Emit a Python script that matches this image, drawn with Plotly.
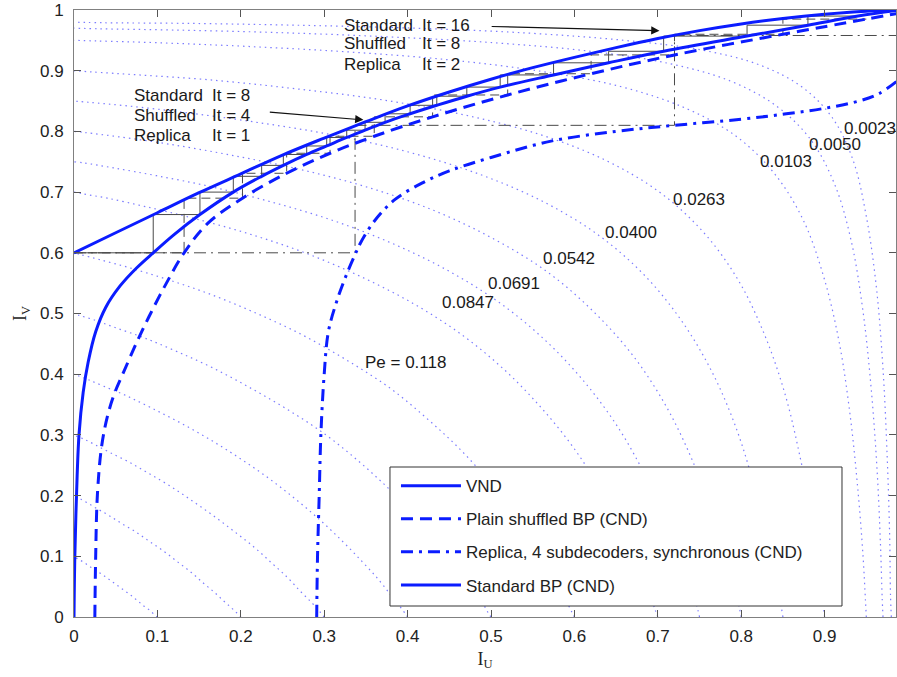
import plotly.graph_objects as go

# ---------------- data ----------------
# VND curve (I_V as a function of I_U)
vnd_u = [0, 0.05, 0.1, 0.15, 0.2, 0.25, 0.3, 0.35, 0.4, 0.45, 0.5, 0.55, 0.6, 0.65, 0.7, 0.75, 0.8, 0.85, 0.9, 0.95, 0.99]
vnd_v = [0.600, 0.633, 0.666, 0.699, 0.730, 0.761, 0.789, 0.816, 0.842, 0.865, 0.886, 0.905, 0.922, 0.938, 0.953, 0.966, 0.977, 0.986, 0.993, 0.998, 1.0]

# Plain shuffled BP (CND)
shuf_u = [0.025, 0.026, 0.028, 0.033, 0.040, 0.049, 0.060, 0.075, 0.090, 0.110, 0.132, 0.160, 0.202, 0.255, 0.307, 0.36, 0.43, 0.52, 0.62, 0.72, 0.85, 0.95, 0.99]
shuf_v = [0.0, 0.1, 0.2, 0.28, 0.33, 0.37, 0.405, 0.452, 0.495, 0.548, 0.6, 0.648, 0.69, 0.731, 0.764, 0.792, 0.824, 0.86, 0.895, 0.926, 0.96, 0.985, 0.995]

# Replica, 4 subdecoders, synchronous (CND)
rep_u = [0.291, 0.292, 0.294, 0.296, 0.3, 0.305, 0.315, 0.327, 0.337, 0.343, 0.36, 0.385, 0.419, 0.45, 0.5, 0.572, 0.65, 0.72, 0.8, 0.854, 0.9, 0.941, 0.965, 0.986]
rep_v = [0.0, 0.1, 0.2, 0.3, 0.4, 0.47, 0.52, 0.565, 0.597, 0.615, 0.652, 0.688, 0.716, 0.735, 0.757, 0.784, 0.80, 0.81, 0.82, 0.829, 0.838, 0.85, 0.862, 0.882]

# Standard BP (CND)
std_u = [0.0, 0.001, 0.003, 0.006, 0.011, 0.017, 0.026, 0.038, 0.055, 0.075, 0.095, 0.120, 0.151, 0.191, 0.225, 0.251, 0.279, 0.303, 0.327, 0.349, 0.373, 0.403, 0.435, 0.471, 0.511, 0.575, 0.641, 0.707, 0.807, 0.88, 0.94, 0.99]
std_v = [0.0, 0.1, 0.2, 0.3, 0.37, 0.42, 0.47, 0.51, 0.545, 0.575, 0.6, 0.63, 0.663, 0.700, 0.726, 0.744, 0.762, 0.776, 0.79, 0.802, 0.815, 0.829, 0.843, 0.858, 0.873, 0.893, 0.913, 0.932, 0.957, 0.975, 0.99, 1.0]

# decoding trajectories (corner points, drawn as horizontal-then-vertical steps)
std_traj_u = [0, 0.095, 0.151, 0.191, 0.225, 0.251, 0.279, 0.303, 0.327, 0.349, 0.373, 0.403, 0.435, 0.471, 0.511, 0.575, 0.641, 0.707, 0.807, 0.88, 0.94]
std_traj_v = [0.6, 0.663, 0.700, 0.726, 0.744, 0.762, 0.776, 0.79, 0.802, 0.815, 0.829, 0.843, 0.858, 0.873, 0.893, 0.913, 0.932, 0.957, 0.975, 0.99, 0.99]
shuf_traj_u = [0, 0.132, 0.202, 0.255, 0.307, 0.36, 0.43, 0.52, 0.62, 0.72, 0.85, 0.95]
shuf_traj_v = [0.6, 0.69, 0.731, 0.764, 0.792, 0.824, 0.86, 0.895, 0.926, 0.96, 0.985, 0.985]
rep_traj_u = [0, 0.337, 0.72, 0.986]
rep_traj_v = [0.6, 0.81, 0.958, 0.958]

# iso-Pe contours (dotted), one list per level
pe_levels = [0.1, 0.2, 0.3, 0.4, 0.5, 0.6, 0.7, 0.75, 0.8, 0.85, 0.9, 0.95, 0.97, 0.98]
pe_u = [
    [.100, .099, .097, .094, .089, .083, .076, .069, .061, .052, .043, .035, .027, .019, .013, .007, .003, .001, 0],
    [.200, .199, .195, .188, .179, .168, .155, .141, .125, .108, .090, .073, .056, .041, .027, .016, .007, .002, 0],
    [.300, .298, .293, .284, .271, .256, .237, .216, .192, .167, .141, .115, .089, .065, .043, .025, .012, .003, 0],
    [.400, .398, .391, .380, .365, .345, .321, .294, .264, .231, .196, .161, .126, .092, .062, .036, .017, .004, 0],
    [.500, .497, .490, .477, .460, .437, .410, .377, .341, .301, .257, .212, .167, .124, .084, .049, .023, .006, 0],
    [.600, .597, .589, .576, .557, .533, .502, .466, .424, .378, .326, .272, .216, .161, .110, .065, .030, .008, 0],
    [.700, .697, .690, .676, .657, .632, .601, .562, .517, .465, .406, .342, .275, .208, .143, .086, .040, .011, 0],
    [.750, .748, .740, .727, .709, .684, .653, .614, .568, .514, .452, .384, .311, .236, .164, .099, .047, .012, 0],
    [.800, .798, .791, .779, .761, .738, .708, .670, .623, .568, .503, .431, .352, .269, .188, .114, .054, .014, 0],
    [.850, .848, .842, .831, .815, .794, .766, .729, .684, .629, .563, .487, .401, .311, .219, .134, .064, .017, 0],
    [.900, .898, .893, .885, .871, .853, .828, .796, .754, .701, .635, .556, .465, .365, .261, .162, .078, .021, 0],
    [.950, .949, .946, .940, .931, .918, .899, .874, .839, .793, .732, .655, .560, .449, .328, .208, .102, .027, 0],
    [.970, .969, .967, .963, .956, .946, .932, .912, .883, .842, .787, .713, .619, .504, .374, .240, .119, .032, 0],
    [.980, .979, .978, .975, .970, .962, .950, .934, .909, .873, .823, .753, .660, .544, .409, .265, .133, .036, 0],
]
pe_v = [
    [0, .001, .003, .007, .013, .019, .027, .035, .043, .052, .061, .069, .076, .083, .089, .094, .097, .099, .100],
    [0, .002, .007, .016, .027, .041, .056, .073, .090, .108, .125, .141, .155, .168, .179, .188, .195, .199, .200],
    [0, .003, .012, .025, .043, .065, .089, .115, .141, .167, .192, .216, .237, .256, .271, .284, .293, .298, .300],
    [0, .004, .017, .036, .062, .092, .126, .161, .196, .231, .264, .294, .321, .345, .365, .380, .391, .398, .400],
    [0, .006, .023, .049, .084, .124, .167, .212, .257, .301, .341, .377, .410, .437, .460, .477, .490, .497, .500],
    [0, .008, .030, .065, .110, .161, .216, .272, .326, .378, .424, .466, .502, .533, .557, .576, .589, .597, .600],
    [0, .011, .040, .086, .143, .208, .275, .342, .406, .465, .517, .562, .601, .632, .657, .676, .690, .697, .700],
    [0, .012, .047, .099, .164, .236, .311, .384, .452, .514, .568, .614, .653, .684, .709, .727, .740, .748, .750],
    [0, .014, .054, .114, .188, .269, .352, .431, .503, .568, .623, .670, .708, .738, .761, .779, .791, .798, .800],
    [0, .017, .064, .134, .219, .311, .401, .487, .563, .629, .684, .729, .766, .794, .815, .831, .842, .848, .850],
    [0, .021, .078, .162, .261, .365, .465, .556, .635, .701, .754, .796, .828, .853, .871, .885, .893, .898, .900],
    [0, .027, .102, .208, .328, .449, .560, .655, .732, .793, .839, .874, .899, .918, .931, .940, .946, .949, .950],
    [0, .032, .119, .240, .374, .504, .619, .713, .787, .842, .883, .912, .932, .946, .956, .963, .967, .969, .970],
    [0, .036, .133, .265, .409, .544, .660, .753, .823, .873, .909, .934, .950, .962, .970, .975, .978, .979, .980],
]

# contour labels and their positions
pe_label_text = ["Pe = 0.118", "0.0847", "0.0691", "0.0542", "0.0400", "0.0263", "0.0103", "0.0050", "0.0023"]
pe_label_u = [0.398, 0.472, 0.527, 0.594, 0.668, 0.749, 0.854, 0.912, 0.955]
pe_label_v = [0.419, 0.518, 0.549, 0.591, 0.633, 0.687, 0.751, 0.779, 0.804]

# iteration annotations
iter_names_1 = ["Standard", "Shuffled", "Replica"]
iter_counts_1 = ["It = 8", "It = 4", "It = 1"]
iter_names_2 = ["Standard", "Shuffled", "Replica"]
iter_counts_2 = ["It = 16", "It = 8", "It = 2"]

legend_names = ["VND", "Plain shuffled BP (CND)", "Replica, 4 subdecoders, synchronous (CND)", "Standard BP (CND)"]

# ---------------- styling ----------------
BLUE = "#0b1cff"
DOT = "rgba(80,80,255,0.75)"
GRAY = "#4a4a4a"
FONT = "Liberation Sans"
FS = 17
TXT = "#1a1a1a"

fig = go.Figure()

for u, v in zip(pe_u, pe_v):
    fig.add_trace(go.Scatter(x=u, y=v, mode="lines", showlegend=False, hoverinfo="skip",
                             line=dict(color=DOT, width=1.2, dash="1.5px,4px", shape="spline")))

fig.add_trace(go.Scatter(x=std_traj_u, y=std_traj_v, mode="lines", showlegend=False,
                         line=dict(color=GRAY, width=1, shape="hv")))
fig.add_trace(go.Scatter(x=shuf_traj_u, y=shuf_traj_v, mode="lines", showlegend=False,
                         line=dict(color=GRAY, width=1, shape="hv", dash="9px,5px")))
fig.add_trace(go.Scatter(x=rep_traj_u, y=rep_traj_v, mode="lines", showlegend=False,
                         line=dict(color=GRAY, width=1, shape="hv", dash="12px,5px,2px,5px")))

fig.add_trace(go.Scatter(x=vnd_u, y=vnd_v, mode="lines", name=legend_names[0], legendgroup="a",
                         line=dict(color=BLUE, width=3, shape="spline")))
fig.add_trace(go.Scatter(x=shuf_u, y=shuf_v, mode="lines", name=legend_names[1], legendgroup="b",
                         line=dict(color=BLUE, width=3, shape="spline", dash="12px,7px")))
fig.add_trace(go.Scatter(x=rep_u, y=rep_v, mode="lines", name=legend_names[2], legendgroup="c",
                         line=dict(color=BLUE, width=3, shape="spline", dash="12px,6px,3px,6px")))
fig.add_trace(go.Scatter(x=std_u, y=std_v, mode="lines", name=legend_names[3], legendgroup="d",
                         line=dict(color=BLUE, width=3, shape="spline")))

annotations = []
for t, x, y in zip(pe_label_text, pe_label_u, pe_label_v):
    annotations.append(dict(x=x, y=y, text=t, showarrow=False, xanchor="center", yanchor="middle",
                            font=dict(family=FONT, size=FS, color=TXT)))

rows1 = [0.859, 0.826, 0.794]
rows2 = [0.975, 0.944, 0.911]
for n, c, y in zip(iter_names_1, iter_counts_1, rows1):
    annotations.append(dict(x=0.070, y=y, text=n, showarrow=False, xanchor="left", yanchor="middle",
                            font=dict(family=FONT, size=FS, color=TXT)))
    annotations.append(dict(x=0.163, y=y, text=c, showarrow=False, xanchor="left", yanchor="middle",
                            font=dict(family=FONT, size=FS, color=TXT)))
for n, c, y in zip(iter_names_2, iter_counts_2, rows2):
    annotations.append(dict(x=0.321, y=y, text=n, showarrow=False, xanchor="left", yanchor="middle",
                            font=dict(family=FONT, size=FS, color=TXT)))
    annotations.append(dict(x=0.415, y=y, text=c, showarrow=False, xanchor="left", yanchor="middle",
                            font=dict(family=FONT, size=FS, color=TXT)))

# arrows
annotations.append(dict(x=0.347, y=0.819, ax=0.233, ay=0.832, xref="x", yref="y", axref="x", ayref="y",
                        text="", showarrow=True, arrowhead=2, arrowsize=1.5, arrowwidth=1.1,
                        arrowcolor="#111", standoff=0))
annotations.append(dict(x=0.702, y=0.966, ax=0.499, ay=0.973, xref="x", yref="y", axref="x", ayref="y",
                        text="", showarrow=True, arrowhead=2, arrowsize=1.5, arrowwidth=1.1,
                        arrowcolor="#111", standoff=0))

axis_common = dict(showgrid=False, zeroline=False, showline=True, linecolor="#808080", linewidth=1,
                   mirror="ticks", ticks="inside", ticklen=7, tickcolor="#555", tickwidth=1,
                   tickfont=dict(family=FONT, size=FS, color="#222"))

fig.update_layout(
    width=897, height=677,
    margin=dict(l=74, r=1, t=10, b=60),
    paper_bgcolor="white", plot_bgcolor="white",
    font=dict(family=FONT, size=FS, color="#222"),
    xaxis=dict(range=[0, 0.9856], tickvals=[0, 0.1, 0.2, 0.3, 0.4, 0.5, 0.6, 0.7, 0.8, 0.9],
               ticktext=["0", "0.1", "0.2", "0.3", "0.4", "0.5", "0.6", "0.7", "0.8", "0.9"],
               ticklabelstandoff=4,
               title=dict(text="I<sub>U</sub>", font=dict(family="Liberation Serif", size=18, color="#222"), standoff=6),
               **axis_common),
    yaxis=dict(range=[0, 1], tickvals=[0, 0.1, 0.2, 0.3, 0.4, 0.5, 0.6, 0.7, 0.8, 0.9, 1],
               ticktext=["0", "0.1", "0.2", "0.3", "0.4", "0.5", "0.6", "0.7", "0.8", "0.9", "1"],
               ticklabelstandoff=6,
               title=dict(text="I<sub>V</sub>", font=dict(family="Liberation Serif", size=18, color="#222"), standoff=8),
               **axis_common),
    legend=dict(x=0.3917, y=0.2453, xanchor="left", yanchor="top", bgcolor="rgba(0,0,0,0)", borderwidth=0,
                traceorder="grouped", tracegroupgap=8, itemwidth=60,
                font=dict(family=FONT, size=FS, color="#222")),
    shapes=[dict(type="rect", xref="paper", yref="paper", x0=0.3844, x1=0.9343, y0=0.0181, y1=0.2471,
                 line=dict(color="#333", width=1), fillcolor="white", layer="above")],
    annotations=annotations,
)

fig.write_html("out.html")
